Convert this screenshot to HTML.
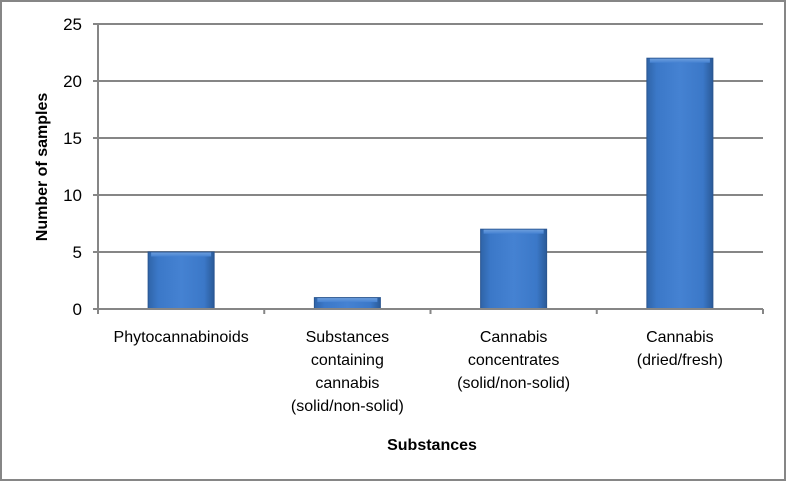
<!DOCTYPE html>
<html><head><meta charset="utf-8"><style>
body{margin:0;background:#fff;}
svg{display:block;font-family:"Liberation Sans",Calibri,sans-serif;}
</style></head><body>
<svg id="chart" width="787" height="482">
<defs>
<linearGradient id="bg" x1="0" x2="1" y1="0" y2="0">
<stop offset="0" stop-color="#2f64a8"/><stop offset="0.15" stop-color="#3b78c8"/><stop offset="0.5" stop-color="#4582d2"/><stop offset="0.85" stop-color="#3b78c8"/><stop offset="1" stop-color="#2a5a98"/>
</linearGradient>
<linearGradient id="hl" x1="0" x2="0" y1="0" y2="1">
<stop offset="0" stop-color="#6c9ddc"/><stop offset="1" stop-color="#4582d2"/>
</linearGradient>
</defs>
<rect x="1" y="1" width="784" height="479" fill="#fff" stroke="#868686" stroke-width="2"/>
<g id="grid"></g><g id="bars"></g><g id="axes"></g>
<text x="432" y="450" text-anchor="middle" font-size="16" font-weight="bold">Substances</text>
<text transform="translate(47,167) rotate(-90)" text-anchor="middle" font-size="16" font-weight="bold">Number of samples</text>
</svg>
<script>
const categories=[["Phytocannabinoids"],["Substances","containing","cannabis","(solid/non-solid)"],["Cannabis","concentrates","(solid/non-solid)"],["Cannabis","(dried/fresh)"]];
const values=[5,1,7,22];
const yTicks=[0,5,10,15,20,25];
const NS="http://www.w3.org/2000/svg";
const L=98,R=763,T=24,B=309,yMax=25;
const y=v=>B-(v/yMax)*(B-T);
const bw=(R-L)/categories.length;
const xc=i=>L+bw*(i+0.5);
function mk(t,a,p){const e=document.createElementNS(NS,t);for(const k in a)e.setAttribute(k,a[k]);p.appendChild(e);return e;}
const g=document.getElementById('grid'),ba=document.getElementById('bars'),ax=document.getElementById('axes');
yTicks.forEach(v=>{
 if(v>0){const l=mk('line',{x1:L,x2:R,y1:y(v),y2:y(v),stroke:'#868686','stroke-width':2},g);
 
 }
 const tk=mk('line',{x1:L-5,x2:L,y1:y(v),y2:y(v),stroke:'#868686','stroke-width':2},ax);
 
 
 const t=mk('text',{x:L-16,y:y(v)+6,'text-anchor':'end','font-size':17},ax);t.textContent=v;
 
 
});
values.forEach((v,i)=>{
 const w=66,x=xc(i)-w/2;
 const r=mk('rect',{x:x,y:y(v),width:w,height:B-y(v),fill:'url(#bg)',stroke:'#2a5590','stroke-width':1},ba);
 
 
 const h=mk('rect',{x:x+3,y:y(v)+0.5,width:w-6,height:Math.min(4,B-y(v)-1),fill:'url(#hl)'},ba);
 
 
 const t=mk('text',{'text-anchor':'middle','font-size':16},ax);
 
 
 categories[i].forEach((s,j)=>{const ts=mk('tspan',{x:xc(i),y:342+j*23},t);ts.textContent=s;});
});
for(let i=0;i<=categories.length;i++){
 const l=mk('line',{x1:L+bw*i,x2:L+bw*i,y1:B,y2:B+5,stroke:'#868686','stroke-width':2},ax);
 
 
}
const xa=mk('line',{x1:L,x2:R,y1:B,y2:B,stroke:'#868686','stroke-width':2},ax);


const ya=mk('line',{x1:L,x2:L,y1:T,y2:B,stroke:'#868686','stroke-width':2},ax);


</script>
</body></html>
